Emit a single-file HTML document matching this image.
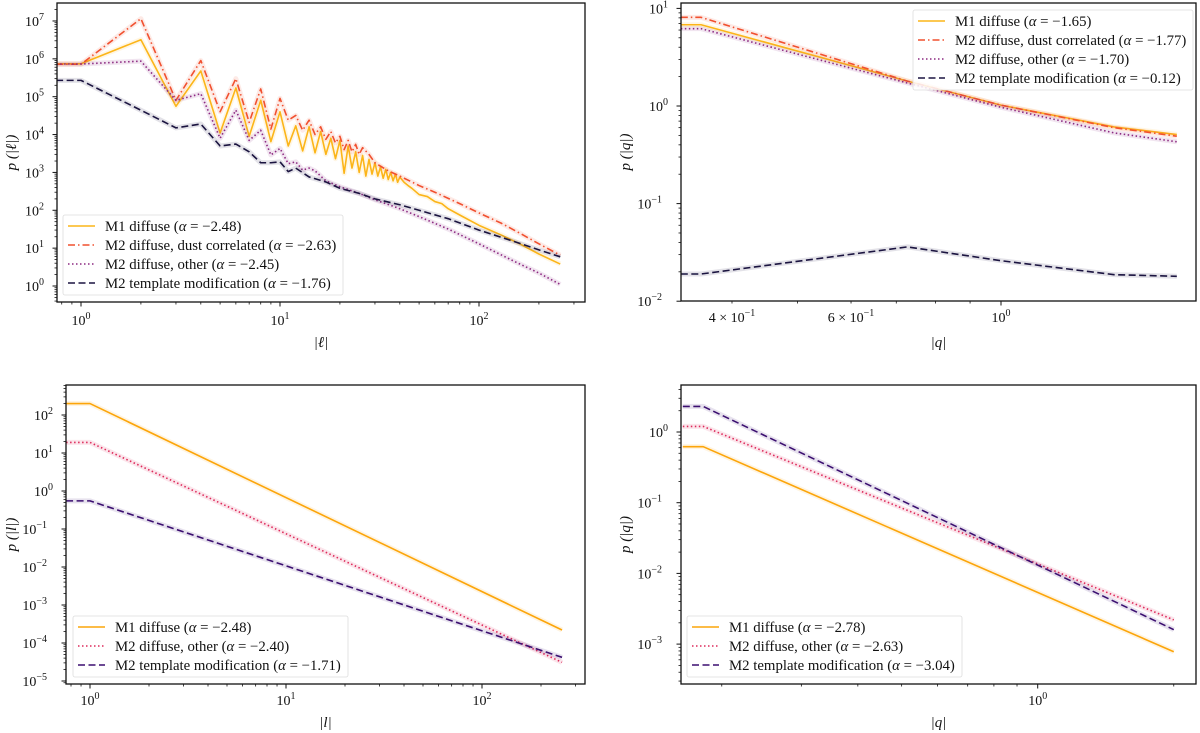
<!DOCTYPE html>
<html><head><meta charset="utf-8"><style>
body{margin:0;background:#fff;}
svg{display:block;font-family:"Liberation Serif","DejaVu Serif",serif;}
</style></head><body>
<svg id="fig" width="1200" height="733" viewBox="0 0 1200 733" xmlns="http://www.w3.org/2000/svg"></svg>
<script>
// ---- Panel A (top-left): p(|ell|) ----
const ellA = [0.75,1,2,3,4,5,6,7,8,9,10,11,12,13,14,15,16,17,18,19,20,21,22,23,24,25,26,27,28,29,30,31,32,33,34,35,36,37,38,39,40,42,44,46,50,55,60,65,70,80,100,130,160,200,256];
const m1A = [7.4e5,7.4e5,3.2e6,5.6e4,4.8e5,1.1e4,1.7e5,9e3,8e4,6.5e3,4e4,5e3,1.7e4,3.7e3,1.6e4,3.3e3,1.2e4,3e3,8e3,2.3e3,7e3,950,5e3,1.3e3,3.5e3,1e3,2.8e3,800,2.2e3,900,1.8e3,800,1.4e3,700,1.2e3,650,1e3,600,900,550,750,550,450,380,260,230,170,150,110,75,40,22,13,7,3.8];
const ellRedA = [0.75,1,2,3,4,5,6,7,8,9,10,11,12,13,14,15,16,17,18,19,20,21,22,23,24,25,26,28,30,35,40,50,60,80,100,130,160,200,256];
const dustA = [7.2e5,7.2e5,1.15e7,8e4,9e5,4e4,3e5,2.1e4,1.6e5,1.4e4,9e4,2.4e4,3.2e4,1.3e4,2.4e4,1e4,1.6e4,7.5e3,1.2e4,6e3,9e3,4e3,7e3,3.5e3,5.5e3,3e3,4.5e3,3e3,1.8e3,1.1e3,800,450,300,150,85,45,25,13,6.5];
const ellOthA = [0.75,1,2,3,4,5,6,7,8,9,10,11,12,13,14,15,17,20,25,30,40,50,70,100,150,200,256];
const otherA = [7.3e5,7.3e5,8.7e5,8e4,1.2e5,8e3,4.4e4,7e3,1.3e4,2.9e3,4.3e3,1.7e3,1.9e3,1.15e3,1.3e3,1.1e3,600,420,280,190,110,68,32,13,4.5,2.2,1.1];
const ellTmA = [0.75,1,2,3,4,5,6,7,8,9,10,11,12,14,17,20,25,30,40,50,70,100,150,200,256];
const tmplA = [2.7e5,2.7e5,4.4e4,1.5e4,1.9e4,5e3,5.6e3,3.5e3,1.8e3,1.8e3,1.9e3,1.05e3,1.3e3,760,560,380,280,200,140,100,60,30,15,9,5.9];
// ---- Panel B (top-right): p(|q|) ----
const qB = [0.336,0.36,0.727,1.0,1.47,1.82];
const m1B = [6.8,6.8,1.8,1.02,0.61,0.51];
const dustB = [8.1,8.1,1.8,1.02,0.6,0.49];
const otherB = [6.2,6.2,1.72,0.97,0.53,0.43];
const tmplB = [0.019,0.019,0.036,0.026,0.0187,0.018];
// ---- Panel C (bottom-left): p(|l|) ----
const lC = [0.755,1,256];
const m1C = [200,200,2.2e-4];
const otherC = [19,19,3.1e-5];
const tmplC = [0.55,0.55,4.2e-5];
// ---- Panel D (bottom-right): p(|q|) ----
const qD = [0.164,0.182,2.0];
const m1D = [0.62,0.62,7.8e-4];
const otherD = [1.2,1.2,2.2e-3];
const tmplD = [2.3,2.3,1.6e-3];

const NS="http://www.w3.org/2000/svg";
const svg=document.getElementById('fig');
function el(tag,attrs,parent){const e=document.createElementNS(NS,tag);for(const k in attrs)e.setAttribute(k,attrs[k]);(parent||svg).appendChild(e);return e;}
const L=Math.log10;

const panels=[
 {id:'top-left',x0:57,x1:585,y0:3,y1:302,ax:81,bx:199,ay:286,by:37.86,ylab:'p (|ℓ|)',xlab:'|ℓ|',ylx:16,xly:347,
  xmaj:[[1,'10','0'],[10,'10','1'],[100,'10','2']],ymaj:[0,1,2,3,4,5,6,7],xdec:[-1,0,1,2],ydec:[-1,0,1,2,3,4,5,6,7],xlabY:325,
  series:[[ellA,m1A,'#fcb519','solid','m1-diffuse'],[ellRedA,dustA,'#f1502f','dashdot','m2-dust-correlated'],[ellOthA,otherA,'#8c2981','dot','m2-other'],[ellTmA,tmplA,'#1b1440','dash','m2-template']],
  legend:{x:63,y:215,w:280,h:80,items:[['M1 diffuse (','α',' = −2.48)'],['M2 diffuse, dust correlated (','α',' = −2.63)'],['M2 diffuse, other (','α',' = −2.45)'],['M2 template modification (','α',' = −1.76)']]}},
 {id:'top-right',x0:681,x1:1196,y0:3,y1:301,ax:1001,bx:676,ay:106,by:97.6,ylab:'p (|q|)',xlab:'|q|',ylx:630,xly:347,
  xmaj:[[0.4,'4 × 10','−1'],[0.6,'6 × 10','−1'],[1,'10','0']],ymaj:[-2,-1,0,1],xdec:[-1,0],ydec:[-3,-2,-1,0,1],xlabY:322,
  series:[[qB,m1B,'#fcb519','solid','m1-diffuse'],[qB,dustB,'#f1502f','dashdot','m2-dust-correlated'],[qB,otherB,'#8c2981','dot','m2-other'],[qB,tmplB,'#1b1440','dash','m2-template']],
  legend:{x:913,y:10,w:280,h:80,items:[['M1 diffuse (','α',' = −1.65)'],['M2 diffuse, dust correlated (','α',' = −1.77)'],['M2 diffuse, other (','α',' = −1.70)'],['M2 template modification (','α',' = −0.12)']]}},
 {id:'bottom-left',x0:66,x1:585,y0:385,y1:684,ax:90,bx:196,ay:491,by:38,ylab:'p (|l|)',xlab:'|l|',ylx:16,xly:727,
  xmaj:[[1,'10','0'],[10,'10','1'],[100,'10','2']],ymaj:[-5,-4,-3,-2,-1,0,1,2],xdec:[-1,0,1,2],ydec:[-6,-5,-4,-3,-2,-1,0,1,2],xlabY:705,
  series:[[lC,m1C,'#fca50a','solid','m1-diffuse'],[lC,otherC,'#dd2a5b','dot','m2-other'],[lC,tmplC,'#3b0f70','dash','m2-template']],
  legend:{x:73,y:616,w:275,h:61,items:[['M1 diffuse (','α',' = −2.48)'],['M2 diffuse, other (','α',' = −2.40)'],['M2 template modification (','α',' = −1.71)']]}},
 {id:'bottom-right',x0:681,x1:1196,y0:385,y1:684,ax:1037.7,bx:452,ay:432,by:70.7,ylab:'p (|q|)',xlab:'|q|',ylx:630,xly:727,
  xmaj:[[1,'10','0']],ymaj:[-3,-2,-1,0],xdec:[-1,0],ydec:[-4,-3,-2,-1,0],xlabY:705,
  series:[[qD,m1D,'#fca50a','solid','m1-diffuse'],[qD,otherD,'#dd2a5b','dot','m2-other'],[qD,tmplD,'#3b0f70','dash','m2-template']],
  legend:{x:687,y:616,w:275,h:61,items:[['M1 diffuse (','α',' = −2.78)'],['M2 diffuse, other (','α',' = −2.63)'],['M2 template modification (','α',' = −3.04)']]}}
];
const dashes={solid:null,dashdot:'7,3,1.5,3',dot:'1.5,2.5',dash:'7,3.5'};

panels.forEach(p=>{
 const g=el('g',{});
 
 
 const X=v=>p.ax+p.bx*L(v), Y=v=>p.ay-p.by*L(v);
 const cid='clip-'+p.id;
 const cp=el('clipPath',{id:cid},g);el('rect',{x:p.x0,y:p.y0,width:p.x1-p.x0,height:p.y1-p.y0},cp);
 const sg=el('g',{'clip-path':'url(#'+cid+')'},g);
 p.series.forEach(s=>{
  const [xs,ys,col,sty,name]=s;
  const d=xs.map((x,i)=>(i?'L':'M')+X(x).toFixed(2)+','+Y(ys[i]).toFixed(2)).join('');
  const band=el('path',{d:d,fill:'none',stroke:col,'stroke-width':5,'stroke-opacity':0.12,'stroke-linejoin':'round'},sg);
  
  
  const a={d:d,fill:'none',stroke:col,'stroke-width':1.6,'stroke-linejoin':'round'};
  if(dashes[sty])a['stroke-dasharray']=dashes[sty];
  const ln=el('path',a,sg);
  
  
 });
 const fr=el('rect',{x:p.x0,y:p.y0,width:p.x1-p.x0,height:p.y1-p.y0,fill:'none',stroke:'#111','stroke-width':1.3},g);
 
 
 p.xdec.forEach(dd=>{for(let m=2;m<=9;m++){const px=X(m*Math.pow(10,dd));if(px>p.x0&&px<p.x1)el('line',{x1:px,x2:px,y1:p.y1,y2:p.y1+2.5,stroke:'#111','stroke-width':0.8},g);}});
 p.ydec.forEach(dd=>{for(let m=2;m<=9;m++){const py=Y(m*Math.pow(10,dd));if(py>p.y0&&py<p.y1)el('line',{x1:p.x0,x2:p.x0-2.5,y1:py,y2:py,stroke:'#111','stroke-width':0.8},g);}});
 p.xmaj.forEach(t=>{const px=X(t[0]);if(t[1]==='10')el('line',{x1:px,x2:px,y1:p.y1,y2:p.y1+4.5,stroke:'#111','stroke-width':1},g);
  const tx=el('text',{x:px,y:p.xlabY,'font-size':14,'text-anchor':'middle',fill:'#111'},g);
  
  tx.appendChild(document.createTextNode(t[1]));const sp=el('tspan',{dy:-6,'font-size':10},tx);sp.textContent=t[2];});
 p.ymaj.forEach(e=>{const py=p.ay-p.by*e;el('line',{x1:p.x0,x2:p.x0-4.5,y1:py,y2:py,stroke:'#111','stroke-width':1},g);
  const tx=el('text',{x:p.x0-7-(e<0?12:6),y:py+5,'font-size':14,'text-anchor':'end',fill:'#111'},g);
  
  tx.appendChild(document.createTextNode('10'));const sp=el('tspan',{dy:-6,'font-size':10},tx);sp.textContent=(e<0?'−'+(-e):''+e);});
 const xt=el('text',{x:(p.x0+p.x1)/2,y:p.xly,'font-size':15,'text-anchor':'middle','font-style':'italic',fill:'#111'},g);
 xt.textContent=p.xlab;
 const cy=(p.y0+p.y1)/2;
 const yt=el('text',{x:p.ylx,y:cy,'font-size':15,'text-anchor':'middle','font-style':'italic',fill:'#111',transform:'rotate(-90 '+p.ylx+' '+cy+')'},g);
 yt.textContent=p.ylab;
 const lg=el('g',{},g);
 
 
 const q=p.legend;
 el('rect',{x:q.x,y:q.y,width:q.w,height:q.h,rx:2,fill:'#fff','fill-opacity':0.85,stroke:'#ddd','stroke-width':0.8},lg);
 q.items.forEach((it,i)=>{const s=p.series[i];const yy=q.y+11+i*19;
  const ent=el('g',{},lg);
  
  
  const a={x1:q.x+5,x2:q.x+32,y1:yy,y2:yy,stroke:s[2],'stroke-width':1.6};if(dashes[s[3]])a['stroke-dasharray']=dashes[s[3]];
  el('line',a,ent);
  const tx=el('text',{x:q.x+42,y:yy+5,'font-size':14.8,fill:'#111'},ent);
  tx.appendChild(document.createTextNode(it[0]));const sp=el('tspan',{'font-style':'italic'},tx);sp.textContent=it[1];tx.appendChild(document.createTextNode(it[2]));
 });
});
</script>
</body></html>
